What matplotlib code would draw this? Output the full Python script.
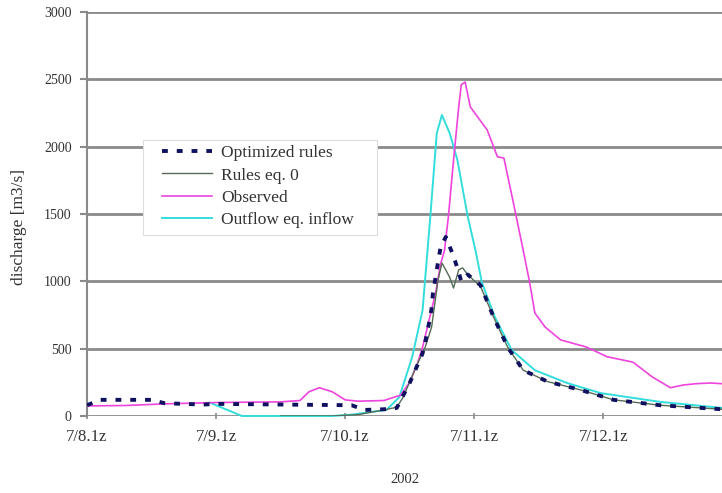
import matplotlib
matplotlib.use("Agg")
import matplotlib.pyplot as plt
from matplotlib.patches import Rectangle

plt.rcParams['font.family'] = ['Liberation Serif', 'DejaVu Serif']

tick_pos = [0, 1, 2, 3, 4]
tick_labels = ["7/8.1z", "7/9.1z", "7/10.1z", "7/11.1z", "7/12.1z"]
y_ticks = [0, 500, 1000, 1500, 2000, 2500, 3000]

# Observed (days since 7/8 01z, m3/s)
obs_t = [0.0, 0.3, 0.6, 1.0, 1.5, 1.65, 1.72, 1.8, 1.9, 2.0, 2.1, 2.3, 2.43, 2.5, 2.56, 2.6,
         2.65, 2.7, 2.74, 2.77, 2.8, 2.84, 2.88, 2.9, 2.93, 2.97, 3.1, 3.18, 3.23, 3.3, 3.38,
         3.43, 3.47, 3.55, 3.67, 3.87, 4.03, 4.23, 4.38, 4.52, 4.62, 4.72, 4.83, 4.92]
obs_v = [75, 78, 90, 100, 105, 115, 180, 210, 180, 120, 110, 115, 155, 250, 390, 510,
         710, 910, 1130, 1230, 1480, 1900, 2295, 2460, 2480, 2295, 2125, 1925, 1915, 1600, 1230,
         990, 765, 660, 565, 512, 440, 400, 290, 210, 230, 240, 245, 240]

# Outflow equal to inflow
cy_t = [0.95, 1.05, 1.2, 1.5, 1.9, 2.05, 2.2, 2.32, 2.42, 2.52, 2.6, 2.66, 2.71, 2.75,
        2.81, 2.87, 2.95, 3.01, 3.06, 3.16, 3.29, 3.47, 3.72, 3.98, 4.44, 4.92]
cy_v = [100, 60, 0, 0, 0, 10, 30, 45, 140, 440, 785, 1480, 2100, 2235,
        2100, 1900, 1480, 1230, 990, 735, 490, 340, 245, 170, 105, 60]

# Rules eq. 0
gr_t = [1.5, 1.9, 2.1, 2.3, 2.4, 2.45, 2.55, 2.62, 2.67, 2.72, 2.75, 2.76, 2.81, 2.84, 2.88,
        2.91, 2.95, 3.05, 3.15, 3.26, 3.38, 3.57, 3.82, 4.08, 4.44, 4.92]
gr_v = [0, 0, 10, 45, 65, 140, 365, 510, 660, 1010, 1135, 1120, 1030, 950, 1085,
        1100, 1050, 960, 735, 510, 340, 255, 195, 120, 80, 50]

# Optimized rules
op_t = [0.0, 0.1, 0.5, 0.6, 0.9, 1.0, 2.05, 2.15, 2.3, 2.4, 2.5, 2.55, 2.6, 2.63, 2.65, 2.67,
        2.68, 2.7, 2.72, 2.74, 2.78, 2.83, 2.87, 2.9, 2.95, 3.05, 3.15, 3.26, 3.38, 3.57,
        3.82, 4.08, 4.44, 4.92]
op_v = [80, 120, 120, 95, 85, 90, 80, 45, 50, 60, 245, 355, 465, 590, 690, 800,
        910, 1025, 1145, 1255, 1330, 1210, 1100, 1000, 1050, 970, 735, 510, 340, 255,
        195, 120, 80, 50]

W, H = 722, 493
fig = plt.figure(figsize=(W/100, H/100), dpi=100)
ax = fig.add_axes([87/W, 1-416/H, 1-87/W, (416-12)/H])

for y in y_ticks:
    ax.axhline(y, color='#8a8a8a', lw=2.0, zorder=1)

ax.plot(obs_t, obs_v, color='#ee44dd', lw=1.2, label='Observed', zorder=3)
ax.plot(cy_t, cy_v, color='#33dddd', lw=1.4, label='Outflow eq. inflow', zorder=2, clip_on=False)
ax.plot(gr_t, gr_v, color='#556b55', lw=1.0, label='Rules eq. 0', zorder=4)
ax.plot(op_t, op_v, color='#101060', lw=2.8, ls=(0, (1.5, 2.3)), label='Optimized rules', zorder=5)

ax.set_xlim(0, 4.92)
ax.set_ylim(0, 3000)
ax.set_yticks(y_ticks)
ax.set_xticks(tick_pos)
ax.set_xticklabels(tick_labels)
for s in ['top', 'right', 'bottom']:
    ax.spines[s].set_visible(False)
ax.spines['left'].set_color('#8a8a8a')
ax.spines['left'].set_linewidth(1.5)
ax.tick_params(axis='y', length=5, width=1.5, color='#8a8a8a', labelsize=10, labelcolor='#333333', pad=6)
ax.tick_params(axis='x', length=5, width=1.2, color='#8a8a8a', direction='inout', labelsize=12,
               labelcolor='#333333', pad=7)
ax.set_xlabel('2002', fontsize=10.5, color='#333333', labelpad=20)
ax.set_ylabel('discharge [m3/s]', fontsize=12.5, color='#333333')
ax.yaxis.set_label_coords((27-87)/635, (416-227)/404)

# legend frame (white, hides gridlines)
ax.add_patch(Rectangle((143/W, 1-235/H), (377-143)/W, (235-140)/H, transform=fig.transFigure,
                       facecolor='white', edgecolor='#dddddd', lw=0.8, zorder=6))

h, l = ax.get_legend_handles_labels()
order = [3, 2, 0, 1]
leg = fig.legend([h[i] for i in order], [l[i] for i in order], loc='upper left',
                 bbox_to_anchor=(162/W, 1-145/H), bbox_transform=fig.transFigure,
                 fontsize=12.5, frameon=False, handlelength=2.9, labelspacing=0.36,
                 handletextpad=0.5, borderpad=0, borderaxespad=0)
for t in leg.get_texts():
    t.set_color('#333333')

fig.savefig('out.png', dpi=100)
